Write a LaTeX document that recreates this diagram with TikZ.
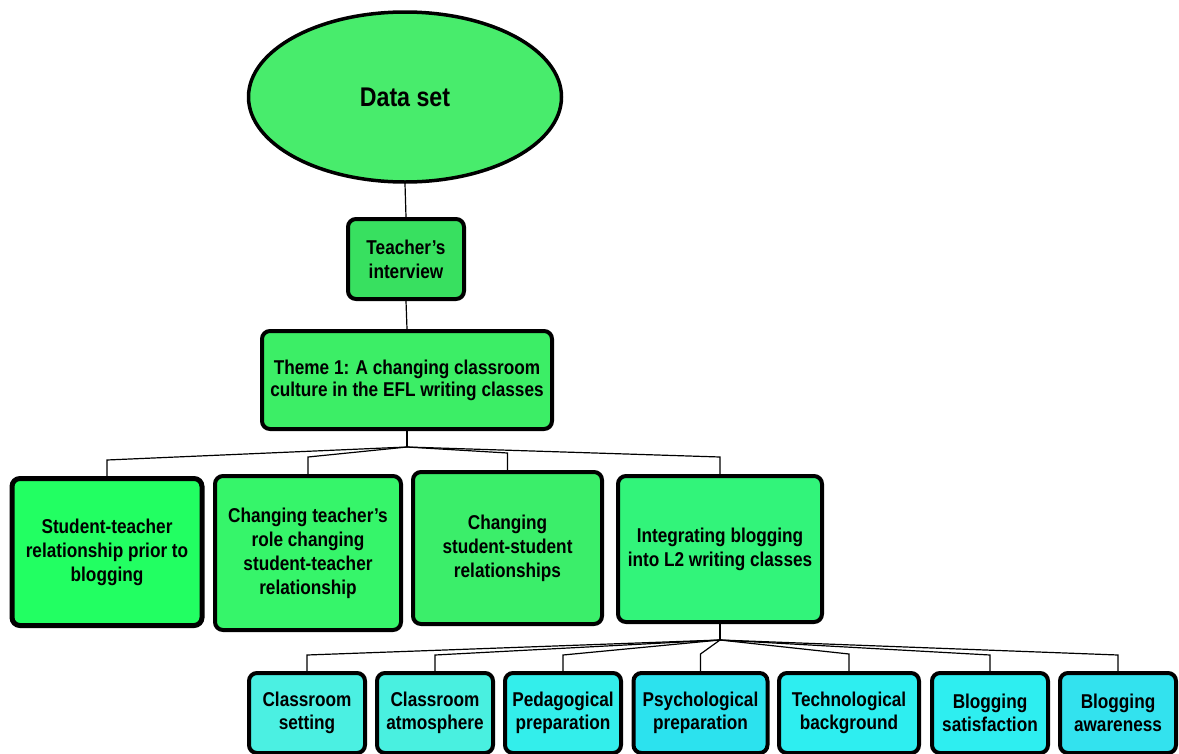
\documentclass[tikz,border=0pt]{standalone}
\usepackage{fontspec}
\setmainfont{Liberation Sans}[FakeStretch=0.86]
\usetikzlibrary{shapes.geometric}
\definecolor{cEll}{HTML}{48EC6C}
\definecolor{cTi}{HTML}{38E060}
\definecolor{cTh}{HTML}{3CEE66}
\definecolor{cA}{HTML}{22FF62}
\definecolor{cB}{HTML}{36F56A}
\definecolor{cC}{HTML}{3BEE6A}
\definecolor{cD}{HTML}{32F47A}
\definecolor{cR1}{HTML}{4BF0E2}
\definecolor{cR2}{HTML}{49F0E0}
\definecolor{cR3}{HTML}{33EEEB}
\definecolor{cR4}{HTML}{2CE2EE}
\definecolor{cR5}{HTML}{2EEEF0}
\definecolor{cR6}{HTML}{2EEEF0}
\definecolor{cR7}{HTML}{33E2EE}
\tikzset{
  card/.style={draw=black, line width=4pt, rounded corners=8pt, inner sep=0pt,
    align=center, font=\fontsize{20}{24}\selectfont\bfseries},
  link/.style={draw=black, line width=1.2pt}
}
\begin{document}
\begin{tikzpicture}[x=1pt, y=-1pt]
\useasboundingbox (0,0) rectangle (1179,753);
\clip (0,0) rectangle (1179,753);
% root and upper chain
\node[ellipse, draw=black, line width=3.5pt, fill=cEll, minimum width=313pt, minimum height=170pt,
  font=\fontsize{27}{30}\selectfont\bfseries] (ds) at (405,97) {Data set};
\node[card, fill=cTi, minimum width=116pt, minimum height=80pt] (ti) at (406,259) {Teacher’s\\interview};
\node[card, fill=cTh, minimum width=290pt, minimum height=98pt, font=\fontsize{20}{22}\selectfont\bfseries]
  (th) at (407,380) {Theme 1: A changing classroom\\culture in the EFL writing classes};
% sub-themes
\node[card, fill=cA, minimum width=190pt, minimum height=147pt, line width=5pt] (a) at (107,552) {Student-teacher\\relationship prior to\\blogging};
\node[card, fill=cB, minimum width=186pt, minimum height=154pt] (b) at (308,553) {Changing teacher’s\\role changing\\student-teacher\\relationship};
\node[card, fill=cC, minimum width=189pt, minimum height=152pt] (c) at (507.5,548) {Changing\\student-student\\relationships};
\node[card, fill=cD, minimum width=204pt, minimum height=146pt] (d) at (720,549) {Integrating blogging\\into L2 writing classes};
% categories
\tikzset{leaf/.style={card, minimum width=116pt, minimum height=80pt, font=\fontsize{20}{23}\selectfont\bfseries}}
\node[leaf, fill=cR1] (r1) at (307,713) {Classroom\\setting};
\node[leaf, fill=cR2] (r2) at (435,713) {Classroom\\atmosphere};
\node[leaf, fill=cR3] (r3) at (563,713) {Pedagogical\\preparation};
\node[leaf, fill=cR4, minimum width=134pt] (r4) at (700.5,713) {Psychological\\preparation};
\node[leaf, fill=cR5, minimum width=140pt] (r5) at (849,713) {Technological\\background};
\node[leaf, fill=cR6] (r6) at (990,713) {Blogging\\satisfaction};
\node[leaf, fill=cR7] (r7) at (1118,713) {Blogging\\awareness};
% connectors
\coordinate (j1) at (407,447);
\coordinate (j2) at (720,640);
\draw[link] (ds.south) -- (ti.north);
\draw[link] (ti.south) -- (th.north);
\draw[link] (th.south) -- (j1);
\draw[link] (j1) -- (a.north |- 0,460) -- (a.north);
\draw[link] (j1) -- (b.north |- 0,457) -- (b.north);
\draw[link] (j1) -- (c.north |- 0,453) -- (c.north);
\draw[link] (j1) -- (d.north |- 0,457) -- (d.north);
\draw[link] (d.south) -- (j2);
\draw[link] (j2) -- (r1.north |- 0,655) -- (r1.north);
\draw[link] (j2) -- (r2.north |- 0,655) -- (r2.north);
\draw[link] (j2) -- (r3.north |- 0,655) -- (r3.north);
\draw[link] (j2) -- (r4.north |- 0,654) -- (r4.north);
\draw[link] (j2) -- (r5.north |- 0,654) -- (r5.north);
\draw[link] (j2) -- (r6.north |- 0,655) -- (r6.north);
\draw[link] (j2) -- (r7.north |- 0,655) -- (r7.north);
\end{tikzpicture}
\end{document}
